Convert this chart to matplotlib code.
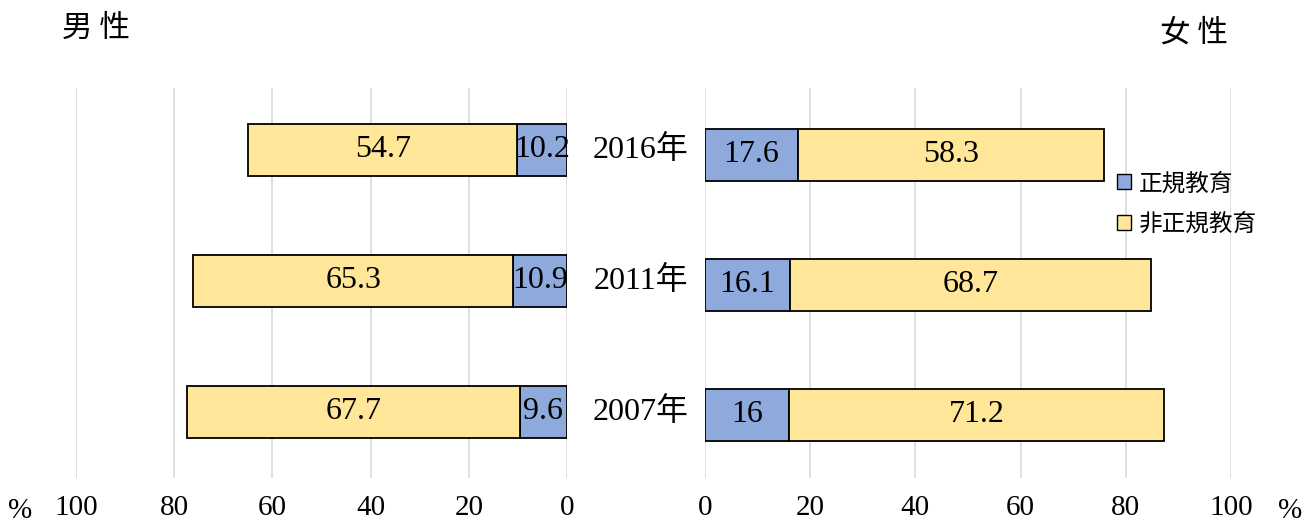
import numpy as np
import matplotlib
matplotlib.use('Agg')
import matplotlib.pyplot as plt
from matplotlib.patches import Patch

years = ['2007年', '2011年', '2016年']
male_formal = [9.6, 10.9, 10.2]
male_nonformal = [67.7, 65.3, 54.7]
female_formal = [16, 16.1, 17.6]
female_nonformal = [71.2, 68.7, 58.3]
ticks = [0, 20, 40, 60, 80, 100]

blue = '#8EA9DB'
yellow = '#FFE699'
serif = ['Liberation Serif', 'Noto Sans CJK TC']
cjk = ['Noto Sans CJK TC', 'DejaVu Sans']

fig = plt.figure(figsize=(13.16, 5.26), dpi=100)
axl = fig.add_axes([76/1316, 1-478/526, (567-76)/1316, 390/526])
axr = fig.add_axes([705/1316, 1-478/526, (1231-705)/1316, 390/526])

y = np.arange(len(years))
h = 0.4
vs = 23  # value label size

def fmt(v):
    return ('%g' % v)

# male (left, reversed)
axl.barh(y, male_formal, h, color=blue, edgecolor='black', linewidth=1.3, zorder=3)
axl.barh(y, male_nonformal, h, left=male_formal, color=yellow, edgecolor='black', linewidth=1.3, zorder=3)
for i in range(len(years)):
    axl.text(male_formal[i]/2, y[i], fmt(male_formal[i]), ha='center', va='center',
             fontsize=vs, family=serif, zorder=4)
    axl.text(male_formal[i] + male_nonformal[i]/2, y[i], fmt(male_nonformal[i]),
             ha='center', va='center', fontsize=vs, family=serif, zorder=4)
axl.set_xlim(100, 0)
axl.set_ylim(-0.504, 2.473)

# female (right)
axr.barh(y, female_formal, h, color=blue, edgecolor='black', linewidth=1.3, zorder=3)
axr.barh(y, female_nonformal, h, left=female_formal, color=yellow, edgecolor='black', linewidth=1.3, zorder=3)
for i in range(len(years)):
    axr.text(female_formal[i]/2, y[i], fmt(female_formal[i]), ha='center', va='center',
             fontsize=vs, family=serif, zorder=4)
    axr.text(female_formal[i] + female_nonformal[i]/2, y[i], fmt(female_nonformal[i]),
             ha='center', va='center', fontsize=vs, family=serif, zorder=4)
axr.set_xlim(0, 100)
axr.set_ylim(-0.485, 2.515)

for ax in (axl, axr):
    ax.set_xticks(ticks)
    ax.set_xticklabels([str(t) for t in ticks], family=serif, fontsize=21)
    ax.set_yticks([])
    ax.grid(axis='x', color='#D9D9D9', linewidth=1.2, zorder=0)
    for s in ax.spines.values():
        s.set_visible(False)
    ax.tick_params(axis='x', length=0, pad=12)

# year labels in the middle
for i, yr in enumerate(years):
    yy = axl.transData.transform((0, y[i]))[1]
    fig.text(641/1316, yy/fig.dpi/5.26, yr, ha='center', va='center',
             fontsize=23, family=serif)

fig.text(20/1316, 1-511/526, '%', ha='center', va='center', fontsize=21, family=serif)
fig.text(1290/1316, 1-511/526, '%', ha='center', va='center', fontsize=21, family=serif)
fig.text(96/1316, 1-28/526, '男 性', ha='center', va='center', fontsize=22, family=cjk)
fig.text(1194/1316, 1-33/526, '女 性', ha='center', va='center', fontsize=22, family=cjk)

handles = [Patch(facecolor=blue, edgecolor='black', label='正規教育'),
           Patch(facecolor=yellow, edgecolor='black', label='非正規教育')]
fig.legend(handles=handles, loc='upper left', bbox_to_anchor=(1096/1316, 1-151/526),
           frameon=False, handlelength=0.6, handleheight=0.6, handletextpad=0.3,
           labelspacing=0.75, prop={'family': cjk, 'size': 17})

fig.savefig('out.png', dpi=100)
